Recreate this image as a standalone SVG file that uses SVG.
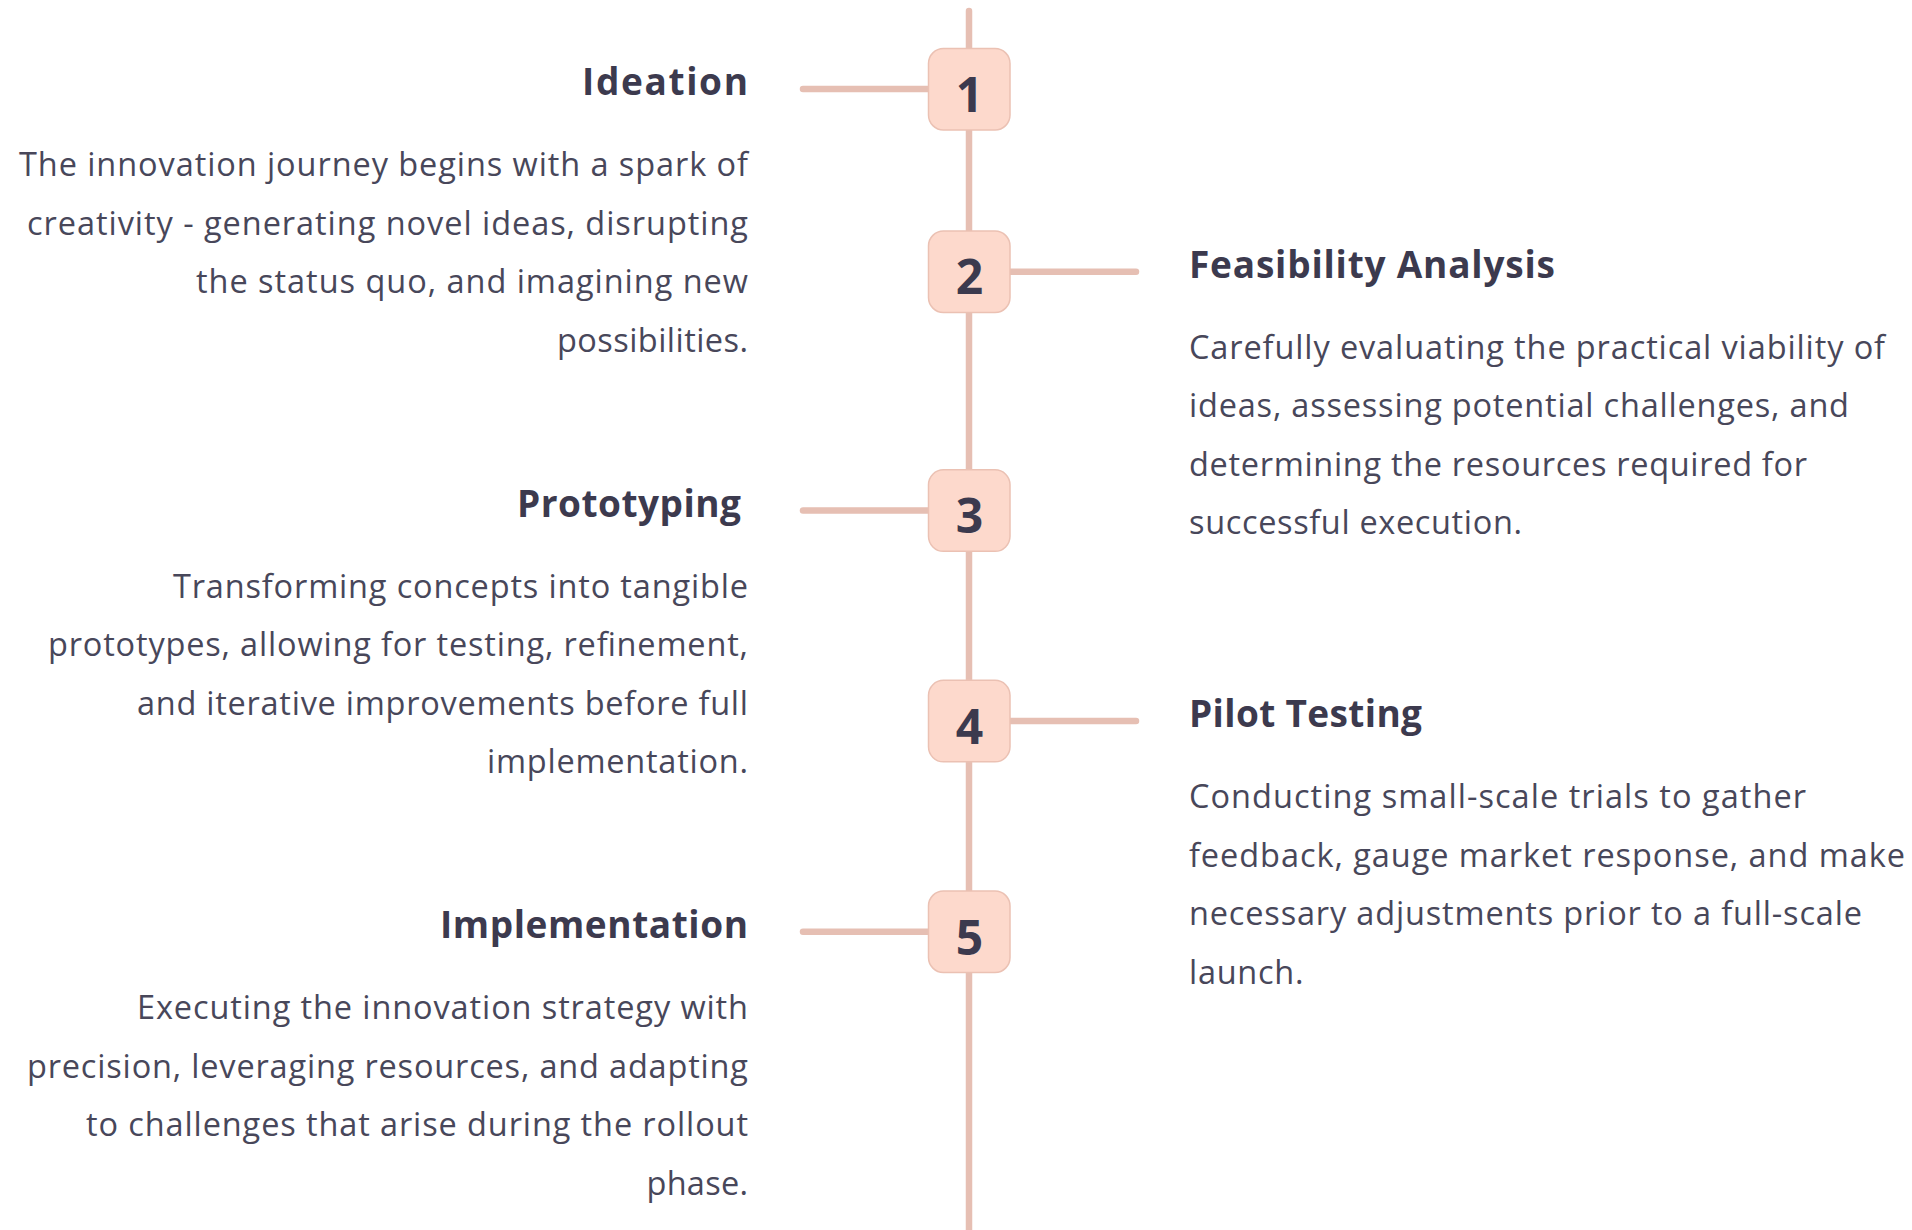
<svg xmlns="http://www.w3.org/2000/svg" width="1912" height="1230" viewBox="0 0 1912 1230">
  <style>
    .spine { stroke: #e6bfb3; stroke-width: 6.5; stroke-linecap: round; fill: none; }
    .link { stroke: #e6bfb3; stroke-width: 6.5; stroke-linecap: round; fill: none; }
    .badge { fill: #fdd9cc; stroke: #ebc1b3; stroke-width: 1.5; }
    .num { font-family: "Open Sans", "Noto Sans", sans-serif; font-weight: 700; font-size: 48px; fill: #3c3a4e; text-anchor: middle; }
    .title { font-family: "Open Sans", "Noto Sans", sans-serif; font-weight: 700; font-size: 37px; fill: #3c3a4e; }
    .body { font-family: "Open Sans", "Noto Sans", sans-serif; font-weight: 400; font-size: 32.5px; fill: #48475a; }
    .end { text-anchor: end; }
    .start { text-anchor: start; }
  </style>
  <rect width="1912" height="1230" fill="#ffffff"/>

  <!-- timeline spine and branch connectors -->
  <g id="connectors">
    <line class="spine" x1="969" y1="11" x2="969" y2="1234"/>
    <line class="link" x1="803" y1="89" x2="929" y2="89"/>
    <line class="link" x1="1009" y1="271.7" x2="1136" y2="271.7"/>
    <line class="link" x1="803" y1="510.6" x2="929" y2="510.6"/>
    <line class="link" x1="1009" y1="721" x2="1136" y2="721"/>
    <line class="link" x1="803" y1="931.8" x2="929" y2="931.8"/>
  </g>

  <!-- step 1 -->
  <g id="step1">
    <rect class="badge" x="928.5" y="48.5" width="81.5" height="81.5" rx="15"/>
    <text class="num" x="969.5" y="111.7">1</text>
    <text class="title end" x="748" y="95" textLength="166" lengthAdjust="spacing">Ideation</text>
    <text class="body end" x="748" y="176" textLength="729" lengthAdjust="spacing">The innovation journey begins with a spark of</text>
    <text class="body end" x="748" y="234.5" textLength="721" lengthAdjust="spacing">creativity - generating novel ideas, disrupting</text>
    <text class="body end" x="748" y="293" textLength="552" lengthAdjust="spacing">the status quo, and imagining new</text>
    <text class="body end" x="748" y="351.5" textLength="191" lengthAdjust="spacing">possibilities.</text>
  </g>

  <!-- step 2 -->
  <g id="step2">
    <rect class="badge" x="928.5" y="231" width="81.5" height="81.5" rx="15"/>
    <text class="num" x="969.5" y="294.4">2</text>
    <text class="title start" x="1189" y="278" textLength="366" lengthAdjust="spacing">Feasibility Analysis</text>
    <text class="body start" x="1189" y="358.5" textLength="696" lengthAdjust="spacing">Carefully evaluating the practical viability of</text>
    <text class="body start" x="1189" y="417" textLength="660" lengthAdjust="spacing">ideas, assessing potential challenges, and</text>
    <text class="body start" x="1189" y="475.5" textLength="618" lengthAdjust="spacing">determining the resources required for</text>
    <text class="body start" x="1189" y="534" textLength="333" lengthAdjust="spacing">successful execution.</text>
  </g>

  <!-- step 3 -->
  <g id="step3">
    <rect class="badge" x="928.5" y="469.8" width="81.5" height="81.5" rx="15"/>
    <text class="num" x="969.5" y="533.3">3</text>
    <text class="title end" x="741" y="516.6" textLength="224" lengthAdjust="spacing">Prototyping</text>
    <text class="body end" x="748" y="597.5" textLength="575" lengthAdjust="spacing">Transforming concepts into tangible</text>
    <text class="body end" x="748" y="656" textLength="700" lengthAdjust="spacing">prototypes, allowing for testing, refinement,</text>
    <text class="body end" x="748" y="714.5" textLength="611" lengthAdjust="spacing">and iterative improvements before full</text>
    <text class="body end" x="748" y="773" textLength="261" lengthAdjust="spacing">implementation.</text>
  </g>

  <!-- step 4 -->
  <g id="step4">
    <rect class="badge" x="928.5" y="680.3" width="81.5" height="81.5" rx="15"/>
    <text class="num" x="969.5" y="743.7">4</text>
    <text class="title start" x="1189" y="727" textLength="233" lengthAdjust="spacing">Pilot Testing</text>
    <text class="body start" x="1189" y="808" textLength="617" lengthAdjust="spacing">Conducting small-scale trials to gather</text>
    <text class="body start" x="1189" y="866.5" textLength="716" lengthAdjust="spacing">feedback, gauge market response, and make</text>
    <text class="body start" x="1189" y="925" textLength="673" lengthAdjust="spacing">necessary adjustments prior to a full-scale</text>
    <text class="body start" x="1189" y="983.5" textLength="114.5" lengthAdjust="spacing">launch.</text>
  </g>

  <!-- step 5 -->
  <g id="step5">
    <rect class="badge" x="928.5" y="891" width="81.5" height="81.5" rx="15"/>
    <text class="num" x="969.5" y="954.5">5</text>
    <text class="title end" x="748" y="938" textLength="308" lengthAdjust="spacing">Implementation</text>
    <text class="body end" x="748" y="1019" textLength="611" lengthAdjust="spacing">Executing the innovation strategy with</text>
    <text class="body end" x="748" y="1077.5" textLength="721" lengthAdjust="spacing">precision, leveraging resources, and adapting</text>
    <text class="body end" x="748" y="1136" textLength="662" lengthAdjust="spacing">to challenges that arise during the rollout</text>
    <text class="body end" x="748" y="1194.5" textLength="101.5" lengthAdjust="spacing">phase.</text>
  </g>
</svg>
